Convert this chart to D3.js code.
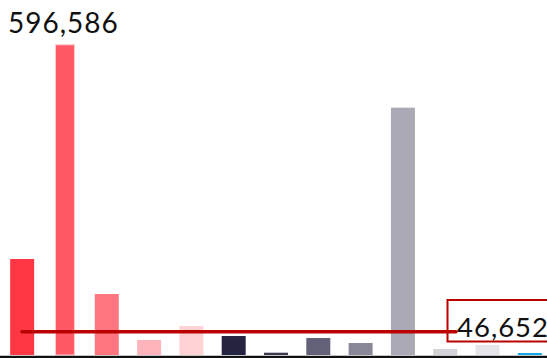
<!DOCTYPE html>
<html>
<head>
<meta charset="utf-8">
<script src="https://cdn.jsdelivr.net/npm/d3@7"></script>
<style>
html,body{margin:0;padding:0;background:#fff;overflow:hidden;}
svg{display:block;}
text{font-family:Lato,"Noto Sans",sans-serif;}
</style>
</head>
<body>
<svg id="chart" width="547" height="358"></svg>
<script>
const categories = ["A","B","C","D","E","F","G","H","I","J","K","L","M"];
const values = [184600, 596586, 117300, 28800, 55800, 36500, 4400, 32700, 23100, 475600, 11500, 19200, 3800];
const colors = ["#ff3644","#ff5966","#ff7580","#ffb3ba","#ffd2d6","#252440","#3b3a50","#626177","#898897","#aaa9b5","#d3d3d8","#e6e6ea","#12a8e6"];
const highlighted = "B";
const referenceValue = 46652;
const maxLabel = "596,586";
const refLabel = "46,652";

const svg = d3.select("#chart");
const x = d3.scaleBand().domain(categories).range([1, 551]).paddingInner(0.433).paddingOuter(0.2165);
const y = d3.scaleLinear().domain([0, 600000]).range([355, 43]);

svg.selectAll("rect.bar").data(categories).join("rect")
  .attr("class","bar")
  .attr("x", d => d === highlighted ? x(d) + 3 : x(d))
  .attr("width", d => d === highlighted ? x.bandwidth() - 5 : x.bandwidth())
  .attr("y", (d,i) => y(values[i]))
  .attr("height", (d,i) => y(0) - y(values[i]))
  .attr("fill", (d,i) => colors[i])
  .attr("stroke", d => d === highlighted ? "#ffc9cd" : "none")
  .attr("stroke-width", 1);

// baseline
svg.append("line").attr("x1",0).attr("x2",547).attr("y1",357).attr("y2",357)
  .attr("stroke","#111").attr("stroke-width",2.5);

// reference line
const ry = y(referenceValue) + 1;
svg.append("line").attr("x1", 22).attr("x2", 456).attr("y1", ry).attr("y2", ry)
  .attr("stroke","#bb0000").attr("stroke-width",3.5).attr("stroke-linecap","round");
svg.append("rect").attr("x",447.5).attr("y",300).attr("width",110).attr("height",41.5)
  .attr("fill","none").attr("stroke","#bb0000").attr("stroke-width",2);
svg.append("text").attr("x",457).attr("y",337).attr("font-size",27.5).attr("letter-spacing",1)
  .attr("fill","#111").text(refLabel);

// max label
svg.append("text").attr("x",8).attr("y",32.5).attr("font-size",28).attr("letter-spacing",1)
  .attr("fill","#111").text(maxLabel);
</script>
</body>
</html>
